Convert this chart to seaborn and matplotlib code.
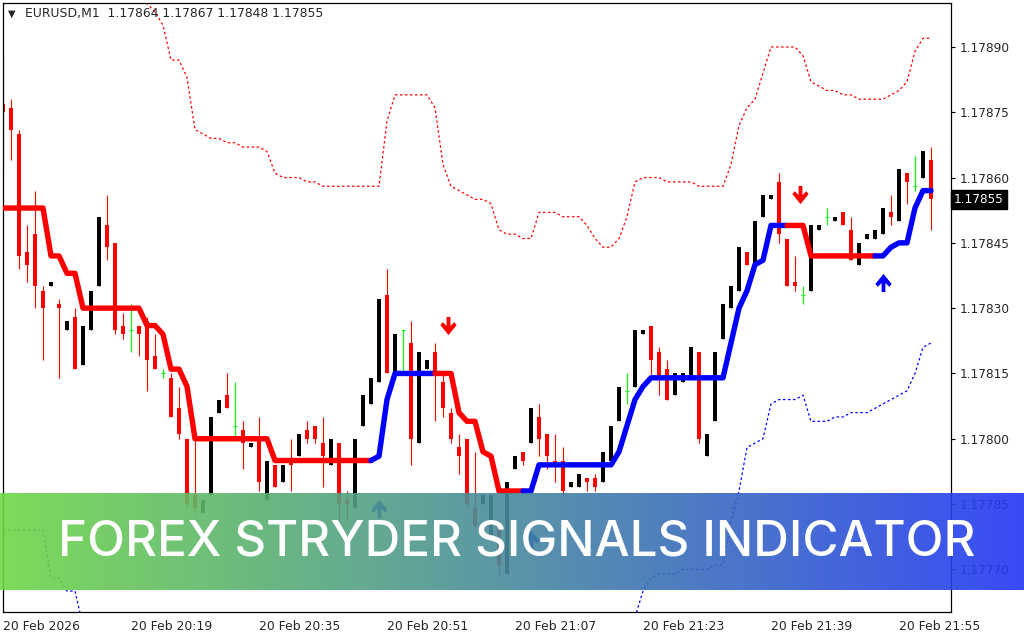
import numpy as np
import matplotlib
matplotlib.use("Agg")
import matplotlib.pyplot as plt
import seaborn as sns
from matplotlib.path import Path
from matplotlib.transforms import blended_transform_factory, ScaledTranslation

nan = float("nan")

# EURUSD M1 bars, 20 Feb 2026 20:03 .. 21:59
open_ = [1.17877, 1.17876, 1.17870, 1.17843, 1.17847, 1.17834, 1.17835, 1.17831, 1.17825, 1.17828,
         1.17817, 1.17825, 1.17835, 1.17849, 1.17845, 1.17826, 1.17825, 1.17826, 1.17827, 1.17819,
         1.17815, 1.17814, 1.17807, 1.17800, 1.17787, 1.17783, 1.17787, 1.17806, 1.17810, 1.17803,
         1.17802, 1.17798, 1.17800, 1.17786, 1.17794, 1.17790, 1.17795, 1.17796, 1.17802, 1.17803,
         1.17799, 1.17794, 1.17799, 1.17786, 1.17784, 1.17803, 1.17808, 1.17813, 1.17833, 1.17815,
         1.17825, 1.17822, 1.17799, 1.17816, 1.17820, 1.17813, 1.17806, 1.17798, 1.17800, 1.17784,
         1.17785, 1.17778, 1.17781, 1.17769, 1.17793, 1.17797, 1.17799, 1.17805, 1.17801, 1.17795,
         1.17795, 1.17789, 1.17789, 1.17791, 1.17791, 1.17790, 1.17795, 1.17804, 1.17811, 1.17812,
         1.17824, 1.17826, 1.17820, 1.17816, 1.17810, 1.17813, 1.17814, 1.17820, 1.17796, 1.17804,
         1.17823, 1.17830, 1.17834, 1.17843, 1.17840, 1.17851, 1.17855, 1.17859, 1.17846, 1.17836,
         1.17833, 1.17834, 1.17848, 1.17851, 1.17850, 1.17852, 1.17848, 1.17840, 1.17846, 1.17846,
         1.17847, 1.17852, 1.17850, 1.17861, 1.17858, 1.17860, 1.17864]
high = [1.17888, 1.17878, 1.17871, 1.17849, 1.17857, 1.17835, 1.17836, 1.17832, 1.17827, 1.17830,
        1.17826, 1.17834, 1.17851, 1.17856, 1.17845, 1.17829, 1.17831, 1.17826, 1.17828, 1.17824,
        1.17816, 1.17815, 1.17812, 1.17800, 1.17800, 1.17786, 1.17805, 1.17809, 1.17815, 1.17813,
        1.17804, 1.17799, 1.17805, 1.17795, 1.17794, 1.17794, 1.17800, 1.17801, 1.17804, 1.17803,
        1.17805, 1.17800, 1.17799, 1.17788, 1.17800, 1.17810, 1.17814, 1.17832, 1.17839, 1.17824,
        1.17825, 1.17827, 1.17820, 1.17818, 1.17822, 1.17815, 1.17807, 1.17801, 1.17800, 1.17797,
        1.17787, 1.17787, 1.17781, 1.17790, 1.17796, 1.17797, 1.17807, 1.17808, 1.17801, 1.17801,
        1.17798, 1.17790, 1.17792, 1.17791, 1.17792, 1.17797, 1.17803, 1.17812, 1.17815, 1.17825,
        1.17825, 1.17826, 1.17821, 1.17818, 1.17815, 1.17815, 1.17821, 1.17820, 1.17801, 1.17820,
        1.17831, 1.17835, 1.17844, 1.17843, 1.17850, 1.17856, 1.17856, 1.17861, 1.17846, 1.17842,
        1.17835, 1.17849, 1.17849, 1.17853, 1.17851, 1.17852, 1.17851, 1.17845, 1.17847, 1.17848,
        1.17853, 1.17856, 1.17862, 1.17861, 1.17865, 1.17866, 1.17867]
low = [1.17862, 1.17864, 1.17839, 1.17836, 1.17830, 1.17818, 1.17835, 1.17814, 1.17825, 1.17816,
       1.17817, 1.17825, 1.17835, 1.17841, 1.17824, 1.17823, 1.17820, 1.17819, 1.17811, 1.17816,
       1.17814, 1.17805, 1.17800, 1.17784, 1.17783, 1.17783, 1.17787, 1.17806, 1.17807, 1.17800,
       1.17793, 1.17798, 1.17788, 1.17786, 1.17789, 1.17790, 1.17788, 1.17796, 1.17799, 1.17799,
       1.17789, 1.17794, 1.17781, 1.17781, 1.17784, 1.17803, 1.17808, 1.17813, 1.17815, 1.17815,
       1.17815, 1.17794, 1.17799, 1.17816, 1.17804, 1.17805, 1.17799, 1.17792, 1.17784, 1.17780,
       1.17785, 1.17778, 1.17769, 1.17769, 1.17793, 1.17794, 1.17799, 1.17796, 1.17793, 1.17790,
       1.17787, 1.17789, 1.17789, 1.17788, 1.17788, 1.17790, 1.17795, 1.17804, 1.17808, 1.17812,
       1.17824, 1.17814, 1.17810, 1.17809, 1.17810, 1.17813, 1.17814, 1.17799, 1.17796, 1.17804,
       1.17823, 1.17830, 1.17834, 1.17840, 1.17840, 1.17851, 1.17855, 1.17845, 1.17835, 1.17834,
       1.17831, 1.17834, 1.17848, 1.17849, 1.17850, 1.17849, 1.17841, 1.17840, 1.17846, 1.17846,
       1.17847, 1.17849, 1.17850, 1.17854, 1.17857, 1.17860, 1.17848]
close = [1.17875, 1.17871, 1.17842, 1.17840, 1.17835, 1.17830, 1.17836, 1.17830, 1.17827, 1.17816,
         1.17826, 1.17834, 1.17851, 1.17844, 1.17825, 1.17824, 1.17825, 1.17824, 1.17818, 1.17816,
         1.17815, 1.17805, 1.17801, 1.17785, 1.17784, 1.17786, 1.17805, 1.17809, 1.17807, 1.17803,
         1.17799, 1.17799, 1.17790, 1.17795, 1.17789, 1.17794, 1.17794, 1.17801, 1.17800, 1.17800,
         1.17796, 1.17800, 1.17785, 1.17785, 1.17800, 1.17810, 1.17814, 1.17832, 1.17815, 1.17824,
         1.17825, 1.17800, 1.17820, 1.17818, 1.17815, 1.17807, 1.17800, 1.17796, 1.17785, 1.17780,
         1.17787, 1.17787, 1.17771, 1.17790, 1.17796, 1.17795, 1.17807, 1.17800, 1.17796, 1.17794,
         1.17788, 1.17790, 1.17792, 1.17790, 1.17789, 1.17797, 1.17803, 1.17812, 1.17811, 1.17825,
         1.17825, 1.17818, 1.17814, 1.17809, 1.17815, 1.17815, 1.17821, 1.17800, 1.17801, 1.17820,
         1.17831, 1.17835, 1.17844, 1.17840, 1.17850, 1.17856, 1.17856, 1.17847, 1.17835, 1.17835,
         1.17833, 1.17849, 1.17849, 1.17851, 1.17851, 1.17849, 1.17841, 1.17845, 1.17847, 1.17848,
         1.17853, 1.17851, 1.17862, 1.17859, 1.17858, 1.17866, 1.17855]

# Stryder line and its direction (-1 red / down, 1 blue / up)
stryder = [1.17853, 1.17853, 1.17853, 1.17853, 1.17853, 1.17853, 1.17842, 1.17842, 1.17838, 1.17838,
           1.17830, 1.17830, 1.17830, 1.17830, 1.17830, 1.17830, 1.17830, 1.17830, 1.17826, 1.17826,
           1.17824, 1.17816, 1.17816, 1.17812, 1.17800, 1.17800, 1.17800, 1.17800, 1.17800, 1.17800,
           1.17800, 1.17800, 1.17800, 1.17800, 1.17795, 1.17795, 1.17795, 1.17795, 1.17795, 1.17795,
           1.17795, 1.17795, 1.17795, 1.17795, 1.17795, 1.17795, 1.17795, 1.17796, 1.17809, 1.17815,
           1.17815, 1.17815, 1.17815, 1.17815, 1.17815, 1.17815, 1.17815, 1.17806, 1.17804, 1.17804,
           1.17797, 1.17796, 1.17788, 1.17788, 1.17788, 1.17788, 1.17788, 1.17794, 1.17794, 1.17794,
           1.17794, 1.17794, 1.17794, 1.17794, 1.17794, 1.17794, 1.17794, 1.17797, 1.17803, 1.17809,
           1.17812, 1.17814, 1.17814, 1.17814, 1.17814, 1.17814, 1.17814, 1.17814, 1.17814, 1.17814,
           1.17814, 1.17822, 1.17830, 1.17834, 1.17840, 1.17841, 1.17849, 1.17849, 1.17849, 1.17849,
           1.17849, 1.17842, 1.17842, 1.17842, 1.17842, 1.17842, 1.17842, 1.17842, 1.17842, 1.17842,
           1.17842, 1.17844, 1.17845, 1.17845, 1.17853, 1.17857, 1.17857]
trend = [-1] * 47 + [1] * 8 + [-1] * 11 + [1] * 33 + [-1] * 11 + [1] * 7

upper_band = [nan, nan, nan, nan, nan, nan, nan, nan, nan, nan,
              nan, nan, nan, nan, nan, nan, nan, 1.17902, 1.17900, 1.17898,
              1.17895, 1.17887, 1.17887, 1.17883, 1.17871, 1.17870, 1.17869, 1.17869, 1.17868, 1.17868,
              1.17867, 1.17867, 1.17867, 1.17866, 1.17861, 1.17860, 1.17860, 1.17860, 1.17859, 1.17859,
              1.17858, 1.17858, 1.17858, 1.17858, 1.17858, 1.17858, 1.17858, 1.17858, 1.17873, 1.17879,
              1.17879, 1.17879, 1.17879, 1.17879, 1.17876, 1.17863, 1.17858, 1.17857, 1.17856, 1.17855,
              1.17855, 1.17854, 1.17848, 1.17847, 1.17847, 1.17846, 1.17846, 1.17852, 1.17852, 1.17852,
              1.17851, 1.17851, 1.17851, 1.17849, 1.17846, 1.17844, 1.17844, 1.17846, 1.17851, 1.17859,
              1.17860, 1.17860, 1.17860, 1.17859, 1.17859, 1.17859, 1.17859, 1.17858, 1.17858, 1.17858,
              1.17858, 1.17863, 1.17872, 1.17876, 1.17878, 1.17884, 1.17890, 1.17890, 1.17890, 1.17890,
              1.17888, 1.17882, 1.17881, 1.17880, 1.17880, 1.17879, 1.17879, 1.17878, 1.17878, 1.17878,
              1.17878, 1.17879, 1.17880, 1.17882, 1.17889, 1.17892, 1.17892]
lower_band = [1.17779, 1.17779, 1.17779, 1.17779, 1.17779, 1.17779, 1.17768, 1.17768, 1.17765, 1.17765,
              1.17757, nan, nan, nan, nan, nan, nan, nan, nan, nan,
              nan, nan, nan, nan, nan, nan, nan, nan, nan, nan,
              nan, nan, nan, nan, nan, nan, nan, nan, nan, nan,
              nan, nan, nan, nan, nan, nan, nan, nan, nan, nan,
              nan, nan, nan, nan, nan, nan, nan, nan, nan, nan,
              nan, nan, nan, nan, nan, nan, nan, nan, nan, nan,
              nan, nan, nan, nan, nan, nan, nan, nan, nan, 1.17759,
              1.17765, 1.17768, 1.17769, 1.17769, 1.17769, 1.17770, 1.17770, 1.17770, 1.17770, 1.17771,
              1.17771, 1.17781, 1.17788, 1.17798, 1.17799, 1.17800, 1.17808, 1.17809, 1.17809, 1.17809,
              1.17810, 1.17804, 1.17804, 1.17804, 1.17805, 1.17805, 1.17806, 1.17806, 1.17806, 1.17807,
              1.17808, 1.17809, 1.17810, 1.17811, 1.17815, 1.17821, 1.17822]

down_arrow_bars = [56, 100]
down_arrow_prices = [1.17826, 1.17856]
up_arrow_bars = [47, 66, 110]
up_arrow_prices = [1.17784, 1.17777, 1.17836]

price_ticks = [1.17770, 1.17785, 1.17800, 1.17815, 1.17830, 1.17845, 1.17860, 1.17875, 1.17890]
time_tick_bars = [0, 16, 32, 48, 64, 80, 96, 112]
time_labels = ["20 Feb 2026", "20 Feb 20:19", "20 Feb 20:35", "20 Feb 20:51",
               "20 Feb 21:07", "20 Feb 21:23", "20 Feb 21:39", "20 Feb 21:55"]
header = "EURUSD,M1  1.17864 1.17867 1.17848 1.17855"
last_price = 1.17855
banner_text = "FOREX STRYDER SIGNALS INDICATOR"

sns.set_style("white")
plt.rcParams["font.family"] = ["DejaVu Sans"]

fig = plt.figure(figsize=(10.24, 6.4), dpi=100)
ax = fig.add_axes([3 / 1024, 28 / 640, 948 / 1024, 609 / 640])

bars = np.arange(len(close))
o, h, l, c = map(np.array, (open_, high, low, close))

bear = c < o
bull = c > o
doji = c == o

# wicks
ax.vlines(bars[bear], l[bear], h[bear], color="#ff0000", lw=0.8, zorder=2)
ax.vlines(bars[bull], l[bull], h[bull], color="black", lw=0.8, zorder=2)
ax.vlines(bars[doji], l[doji], h[doji], color="#00ff00", lw=0.8, zorder=2)
# bodies
ax.bar(bars[bear], o[bear] - c[bear], bottom=c[bear], width=0.6, color="#ff0000", lw=0, zorder=2)
ax.bar(bars[bull], c[bull] - o[bull], bottom=o[bull], width=0.45, color="black", lw=0, zorder=2)
ax.hlines(c[doji], bars[doji] - 0.3, bars[doji] + 0.3, color="#00ff00", lw=0.8, zorder=2)


def draw_band(values, color):
    v = np.array(values, dtype=float)
    ok = ~np.isnan(v)
    start = None
    for i in range(len(v) + 1):
        if i < len(v) and ok[i]:
            if start is None:
                start = i
        elif start is not None:
            sns.lineplot(x=bars[start:i], y=v[start:i], ax=ax, color=color, lw=0.9,
                         linestyle=(0, (2, 2)), sort=False, estimator=None, legend=False, zorder=1)
            start = None


draw_band(upper_band, "#ff0000")
draw_band(lower_band, "#0000ff")

# stryder line, coloured by direction
s = np.array(stryder)
run_start = 0
for i in range(1, len(s) + 1):
    if i == len(s) or trend[i] != trend[run_start + 1 if run_start + 1 < len(s) else run_start]:
        seg = slice(run_start, i)
        col = "#0000ff" if trend[i - 1] > 0 else "#ff0000"
        sns.lineplot(x=bars[seg], y=s[seg], ax=ax, color=col, lw=3.9, sort=False,
                     estimator=None, legend=False, zorder=3, solid_joinstyle="round")
        run_start = i - 1

# arrows
down_verts = [(-0.2, 1.0), (0.2, 1.0), (0.2, 0.05), (0.6, 0.45), (0.85, 0.15), (0.0, -0.9),
              (-0.85, 0.15), (-0.6, 0.45), (-0.2, 0.05), (-0.2, 1.0)]
codes = [Path.MOVETO] + [Path.LINETO] * 8 + [Path.CLOSEPOLY]
down_marker = Path(down_verts, codes)
up_marker = Path([(x, -y) for x, y in down_verts], codes)
shift = ScaledTranslation(-3 / 100, 0, fig.dpi_scale_trans)
ax.scatter(down_arrow_bars, down_arrow_prices, marker=down_marker, s=190, color="#ff0000",
           lw=0, zorder=4, transform=ax.transData + shift)
ax.scatter(up_arrow_bars, up_arrow_prices, marker=up_marker, s=190, color="#0000ff",
           lw=0, zorder=4)

ax.set_xlim(0, 118.5)
ax.set_ylim(1.177602, 1.179001)
ax.yaxis.tick_right()
ax.set_yticks(price_ticks)
ax.set_yticklabels([f"{p:.5f}" for p in price_ticks], fontsize=8.7)
ax.set_xticks(time_tick_bars)
ax.set_xticklabels(time_labels, fontsize=8.9)
for lbl in ax.get_xticklabels():
    lbl.set_ha("left")
ax.tick_params(axis="both", direction="out", length=3, width=0.8, color="black", pad=3)
ax.tick_params(axis="x", pad=3)
for sp in ax.spines.values():
    sp.set_visible(True)
    sp.set_color("black")
    sp.set_linewidth(0.9)
ax.set_xlabel("")
ax.set_ylabel("")

# current price tag
tr = blended_transform_factory(ax.transAxes, ax.transData)
ax.text(1.003, last_price, f"{last_price:.5f}", transform=tr, ha="left", va="center",
        fontsize=8.7, color="white", zorder=5,
        bbox=dict(boxstyle="square,pad=0.25", facecolor="black", edgecolor="black"))

# header
fig.text(8 / 1024, 1 - 14 / 640, "\u25bc", fontsize=7, va="center", ha="left")
fig.text(25 / 1024, 1 - 14 / 640, header, fontsize=8.9, va="center", ha="left")

# banner
bax = fig.add_axes([0, 50 / 640, 1, 97 / 640])
stops = np.array([[110, 216, 70], [74, 142, 152], [33, 55, 245]]) / 255.0
t = np.linspace(0, 1, 600)
grad = np.empty((1, 600, 3))
for k in range(3):
    grad[0, :, k] = np.interp(t, [0, 0.47, 1], stops[:, k])
bax.imshow(grad, aspect="auto", extent=[0, 1, 0, 1], alpha=0.9)
bax.set_xlim(0, 1)
bax.set_ylim(0, 1)
bax.axis("off")
bax.text(517 / 1024, 0.49, banner_text, color="white", fontsize=35.5, ha="center", va="center",
         family=["Inter", "DejaVu Sans"], fontweight="medium")

fig.savefig("out.png", dpi=100)
